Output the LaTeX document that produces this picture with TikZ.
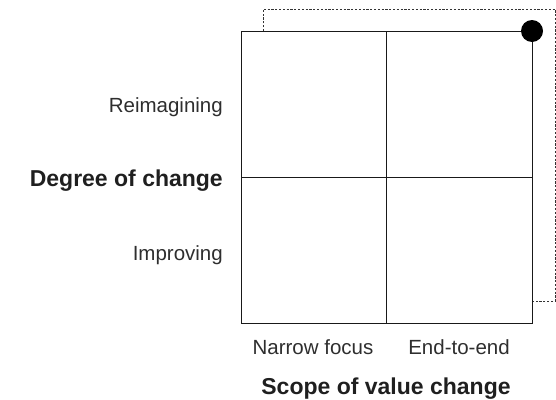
\documentclass[tikz,border=0pt]{standalone}
\usepackage{fontspec}
\setmainfont{Liberation Sans}
\begin{document}
\begin{tikzpicture}[x=1pt,y=-1pt,
  cell/.style={draw=black!90,line width=0.9pt,minimum width=145.5pt,minimum height=146pt,inner sep=0pt,outer sep=0pt,anchor=north west},
  lab/.style={font=\fontsize{20.5}{24}\selectfont,text=black!82,inner sep=0pt},
  blab/.style={font=\fontsize{23}{27}\selectfont\bfseries,text=black!88,inner sep=0pt},
  dashline/.style={draw=black!80,line width=0.8pt,dash pattern=on 2.2pt off 1.6pt}]
\useasboundingbox (0,0) rectangle (556,399);
\draw[dashline] (263,31) -- (263,9) -- (555,9) -- (555,301) -- (532,301);
\node[cell] (tl) at (241,31) {};
\node[cell] (tr) at (386.5,31) {};
\node[cell] (bl) at (241,177) {};
\node[cell] (br) at (386.5,177) {};
\fill[black] (tr.north east) circle (11);
\node[lab,anchor=base east] (reim) at (223,112) {Reimagining};
\node[blab,anchor=base east] (deg) at (223,186) {Degree of change};
\node[lab,anchor=base east] (imp) at (223,260) {Improving};
\node[lab,anchor=base] (nar) at (313,354) {Narrow focus};
\node[lab,anchor=base] (e2e) at (459,354) {End-to-end};
\node[blab,anchor=base] (scope) at (386,394) {Scope of value change};
\end{tikzpicture}
\end{document}
